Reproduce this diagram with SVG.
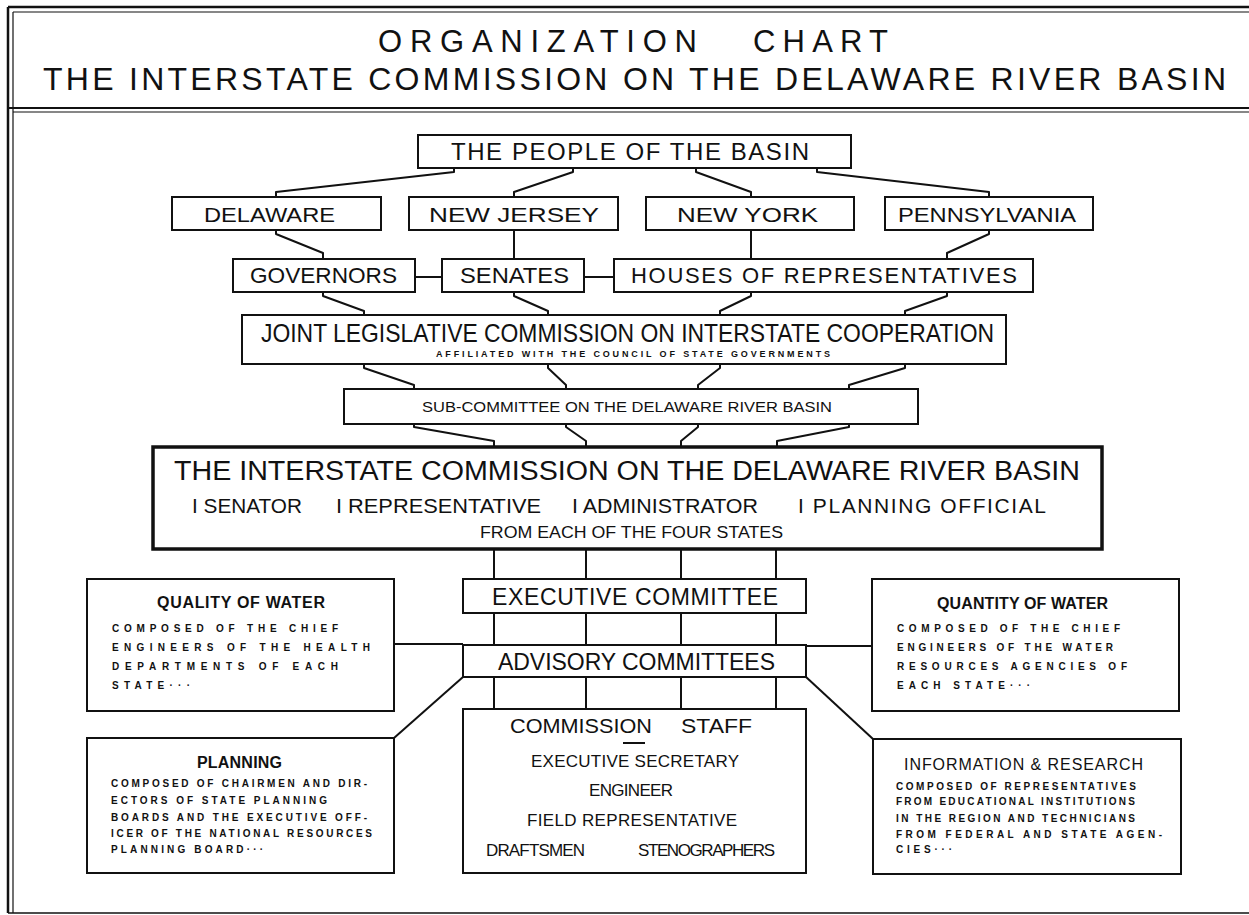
<svg xmlns="http://www.w3.org/2000/svg" width="1249" height="915" viewBox="0 0 1249 915">
<style>
.box{fill:#fff;stroke:#111;stroke-width:2}
.big{fill:#fff;stroke:#111;stroke-width:3.5}
.c{fill:none;stroke:#111;stroke-width:2;stroke-linejoin:round}
.fr{fill:none;stroke:#111}
text{font-family:"Liberation Sans",Arial,sans-serif;fill:#111}
.m{text-anchor:middle}
.b{font-weight:bold}
.s{font-size:10px;font-weight:bold}
</style>
<g id="frame">
<line class="fr" x1="8" y1="7" x2="1249" y2="7" stroke-width="2.5"/>
<line class="fr" x1="13" y1="12" x2="1249" y2="12" stroke-width="1.2"/>
<line class="fr" x1="8" y1="7" x2="8" y2="913" stroke-width="2.5"/>
<line class="fr" x1="13" y1="12" x2="13" y2="913" stroke-width="1.2"/>
<line class="fr" x1="8" y1="108" x2="1249" y2="108" stroke-width="2"/>
<line class="fr" x1="13" y1="112" x2="1249" y2="112" stroke-width="1.2"/>
<line class="fr" x1="8" y1="913" x2="1249" y2="913" stroke-width="1.5"/>
</g>
<g id="title">
<text x="378" y="52" font-size="31" textLength="319" lengthAdjust="spacing">ORGANIZATION</text>
<text x="753" y="52" font-size="31" textLength="135" lengthAdjust="spacing">CHART</text>
<text x="43" y="90" font-size="32" textLength="1183" lengthAdjust="spacing">THE INTERSTATE COMMISSION ON THE DELAWARE RIVER BASIN</text>
</g>
<g id="connectors">
<polyline class="c" points="454,168 454,172 276,192 276,197"/>
<polyline class="c" points="573,168 573,172 514,192 514,197"/>
<polyline class="c" points="696,168 696,172 751,192 751,197"/>
<polyline class="c" points="817,168 817,172 989,192 989,197"/>
<polyline class="c" points="276,230 276,234 323,253 323,259"/>
<polyline class="c" points="514,230 514,259"/>
<polyline class="c" points="751,230 751,259"/>
<polyline class="c" points="989,230 989,234 947,253 947,259"/>
<line class="c" x1="415" y1="277" x2="442" y2="277"/>
<line class="c" x1="584" y1="277" x2="614" y2="277"/>
<polyline class="c" points="323,292 323,296 364,311 364,315"/>
<polyline class="c" points="514,292 514,296 548,311 548,315"/>
<polyline class="c" points="751,292 751,296 720,311 720,315"/>
<polyline class="c" points="947,292 947,296 905,311 905,315"/>
<polyline class="c" points="364,364 364,368 414,385 414,389"/>
<polyline class="c" points="548,364 548,368 566,385 566,389"/>
<polyline class="c" points="720,364 720,368 698,385 698,389"/>
<polyline class="c" points="905,364 905,368 849,385 849,389"/>
<polyline class="c" points="414,424 414,427 494,441 494,447"/>
<polyline class="c" points="566,424 566,427 586,441 586,447"/>
<polyline class="c" points="698,424 698,427 681,441 681,447"/>
<polyline class="c" points="849,424 849,427 777,441 777,447"/>
<line class="c" x1="494" y1="549" x2="494" y2="709"/>
<line class="c" x1="586" y1="549" x2="586" y2="709"/>
<line class="c" x1="681" y1="549" x2="681" y2="709"/>
<line class="c" x1="776" y1="549" x2="776" y2="709"/>
<line class="c" x1="394" y1="644" x2="463" y2="644"/>
<line class="c" x1="806" y1="646" x2="872" y2="646"/>
<line class="c" x1="463" y1="677" x2="394" y2="738"/>
<line class="c" x1="806" y1="677" x2="873" y2="739"/>
</g>
<g id="people">
<rect class="box" x="418" y="135" width="433" height="33"/>
<text class="m" x="630" y="160" font-size="24" textLength="358" lengthAdjust="spacing">THE PEOPLE OF THE BASIN</text>
</g>
<g id="delaware">
<rect class="box" x="172" y="197" width="209" height="33"/>
<text class="m" x="269.5" y="222" font-size="21" textLength="131" lengthAdjust="spacingAndGlyphs">DELAWARE</text>
</g>
<g id="new-jersey">
<rect class="box" x="409" y="197" width="209" height="33"/>
<text class="m" x="514" y="222" font-size="21" textLength="170" lengthAdjust="spacingAndGlyphs">NEW JERSEY</text>
</g>
<g id="new-york">
<rect class="box" x="646" y="197" width="208" height="33"/>
<text class="m" x="747.5" y="222" font-size="21" textLength="141" lengthAdjust="spacingAndGlyphs">NEW YORK</text>
</g>
<g id="pennsylvania">
<rect class="box" x="885" y="197" width="208" height="33"/>
<text class="m" x="987" y="222" font-size="21" textLength="178" lengthAdjust="spacingAndGlyphs">PENNSYLVANIA</text>
</g>
<g id="governors">
<rect class="box" x="233" y="259" width="182" height="33"/>
<text class="m" x="323.5" y="283" font-size="22" textLength="147" lengthAdjust="spacingAndGlyphs">GOVERNORS</text>
</g>
<g id="senates">
<rect class="box" x="442" y="259" width="142" height="33"/>
<text class="m" x="514.5" y="283" font-size="22" textLength="109" lengthAdjust="spacingAndGlyphs">SENATES</text>
</g>
<g id="houses">
<rect class="box" x="614" y="259" width="419" height="33"/>
<text class="m" x="824" y="283" font-size="22" textLength="386" lengthAdjust="spacing">HOUSES OF REPRESENTATIVES</text>
</g>
<g id="joint-commission">
<rect class="box" x="242" y="315" width="764" height="49"/>
<text class="m" x="627.5" y="342" font-size="26" textLength="733" lengthAdjust="spacingAndGlyphs">JOINT LEGISLATIVE COMMISSION ON INTERSTATE COOPERATION</text>
<text class="m s" x="633" y="357" font-size="9" style="font-size:9px" textLength="394" lengthAdjust="spacing">AFFILIATED WITH THE COUNCIL OF STATE GOVERNMENTS</text>
</g>
<g id="sub-committee">
<rect class="box" x="344" y="389" width="574" height="35"/>
<text class="m" x="627" y="412" font-size="15" textLength="410" lengthAdjust="spacingAndGlyphs">SUB-COMMITTEE ON THE DELAWARE RIVER BASIN</text>
</g>
<g id="interstate-commission">
<rect class="big" x="153" y="447" width="949" height="102"/>
<text class="m" x="627" y="480" font-size="27" textLength="906" lengthAdjust="spacingAndGlyphs">THE INTERSTATE COMMISSION ON THE DELAWARE RIVER BASIN</text>
<text class="m" x="247" y="513" font-size="21" textLength="110" lengthAdjust="spacingAndGlyphs">I SENATOR</text>
<text class="m" x="438.5" y="513" font-size="21" textLength="205" lengthAdjust="spacingAndGlyphs">I REPRESENTATIVE</text>
<text class="m" x="665" y="513" font-size="21" textLength="186" lengthAdjust="spacingAndGlyphs">I ADMINISTRATOR</text>
<text class="m" x="922" y="513" font-size="21" textLength="248" lengthAdjust="spacing">I PLANNING OFFICIAL</text>
<text class="m" x="631.5" y="538" font-size="16" textLength="303" lengthAdjust="spacingAndGlyphs">FROM EACH OF THE FOUR STATES</text>
</g>
<g id="executive-committee">
<rect class="box" x="463" y="579" width="343" height="34"/>
<text class="m" x="635" y="605" font-size="23" textLength="286" lengthAdjust="spacing">EXECUTIVE COMMITTEE</text>
</g>
<g id="advisory-committees">
<rect class="box" x="463" y="645" width="343" height="32"/>
<text class="m" x="636.5" y="670" font-size="23" textLength="277" lengthAdjust="spacing">ADVISORY COMMITTEES</text>
</g>
<g id="quality-of-water">
<rect class="box" x="87" y="579" width="307" height="132"/>
<text class="m b" x="241" y="608" font-size="16" textLength="168" lengthAdjust="spacing">QUALITY OF WATER</text>
<text class="s" x="112" y="632" textLength="226" lengthAdjust="spacing">COMPOSED OF THE CHIEF</text>
<text class="s" x="112" y="651" textLength="258" lengthAdjust="spacing">ENGINEERS OF THE HEALTH</text>
<text class="s" x="112" y="670" textLength="226" lengthAdjust="spacing">DEPARTMENTS OF EACH</text>
<text class="s" x="112" y="689" textLength="78" lengthAdjust="spacing">STATE···</text>
</g>
<g id="quantity-of-water">
<rect class="box" x="872" y="579" width="307" height="132"/>
<text class="m b" x="1022.5" y="609" font-size="16" textLength="171" lengthAdjust="spacing">QUANTITY OF WATER</text>
<text class="s" x="897" y="632" textLength="223" lengthAdjust="spacing">COMPOSED OF THE CHIEF</text>
<text class="s" x="897" y="651" textLength="216" lengthAdjust="spacing">ENGINEERS OF THE WATER</text>
<text class="s" x="897" y="670" textLength="230" lengthAdjust="spacing">RESOURCES AGENCIES OF</text>
<text class="s" x="897" y="689" textLength="133" lengthAdjust="spacing">EACH STATE···</text>
</g>
<g id="planning">
<rect class="box" x="87" y="738" width="307" height="135"/>
<text class="m b" x="239.5" y="768" font-size="16" textLength="85" lengthAdjust="spacing">PLANNING</text>
<text class="s" x="111" y="787" textLength="256" lengthAdjust="spacing">COMPOSED OF CHAIRMEN AND DIR-</text>
<text class="s" x="111" y="804" textLength="216" lengthAdjust="spacing">ECTORS OF STATE PLANNING</text>
<text class="s" x="111" y="821" textLength="256" lengthAdjust="spacing">BOARDS AND THE EXECUTIVE OFF-</text>
<text class="s" x="111" y="837" textLength="261" lengthAdjust="spacing">ICER OF THE NATIONAL RESOURCES</text>
<text class="s" x="111" y="853" textLength="152" lengthAdjust="spacing">PLANNING BOARD···</text>
</g>
<g id="commission-staff">
<rect class="box" x="463" y="709" width="343" height="164"/>
<text x="510" y="733" font-size="21" textLength="142" lengthAdjust="spacingAndGlyphs">COMMISSION</text>
<text x="681" y="733" font-size="21" textLength="71" lengthAdjust="spacingAndGlyphs">STAFF</text>
<line x1="623" y1="743" x2="645" y2="743" stroke="#111" stroke-width="2"/>
<text class="m" x="635" y="767" font-size="17" textLength="208" lengthAdjust="spacing">EXECUTIVE SECRETARY</text>
<text class="m" x="631" y="796" font-size="17" textLength="84" lengthAdjust="spacing">ENGINEER</text>
<text class="m" x="632" y="826" font-size="17" textLength="210" lengthAdjust="spacing">FIELD REPRESENTATIVE</text>
<text class="m" x="535.5" y="856" font-size="17" textLength="99" lengthAdjust="spacing">DRAFTSMEN</text>
<text class="m" x="706.5" y="856" font-size="17" textLength="137" lengthAdjust="spacing">STENOGRAPHERS</text>
</g>
<g id="information-research">
<rect class="box" x="873" y="739" width="308" height="135"/>
<text class="m" x="1023.5" y="770" font-size="16" textLength="239" lengthAdjust="spacing">INFORMATION &amp; RESEARCH</text>
<text class="s" x="896" y="790" textLength="240" lengthAdjust="spacing">COMPOSED OF REPRESENTATIVES</text>
<text class="s" x="896" y="805" textLength="239" lengthAdjust="spacing">FROM EDUCATIONAL INSTITUTIONS</text>
<text class="s" x="896" y="822" textLength="239" lengthAdjust="spacing">IN THE REGION AND TECHNICIANS</text>
<text class="s" x="896" y="838" textLength="266" lengthAdjust="spacing">FROM FEDERAL AND STATE AGEN-</text>
<text class="s" x="896" y="853" textLength="56" lengthAdjust="spacing">CIES···</text>
</g>
</svg>
